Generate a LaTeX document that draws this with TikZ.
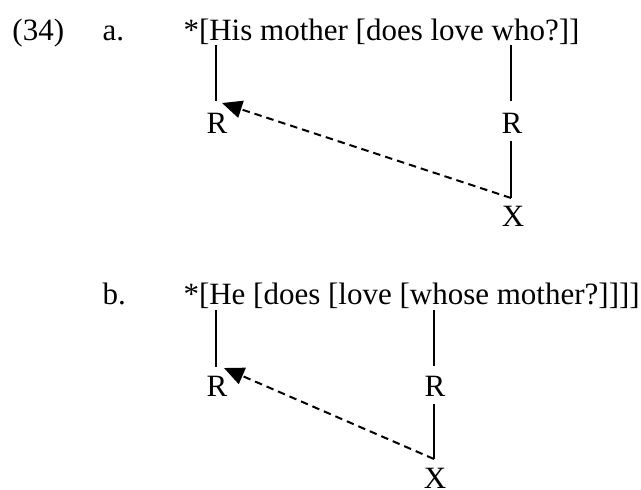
\documentclass[tikz,border=0pt]{standalone}
\usepackage{fontspec}
\setmainfont{Liberation Serif}
\usetikzlibrary{arrows.meta}
\begin{document}
\begin{tikzpicture}[x=0.4pt,y=-0.4pt,
  txt/.style={anchor=base west,inner sep=0pt,font=\fontsize{12.4pt}{14pt}\selectfont},
  sym/.style={anchor=base,inner sep=0pt,font=\fontsize{12.4pt}{14pt}\selectfont},
  link/.style={line width=0.8pt},
  move/.style={line width=0.8pt,dash pattern=on 3pt off 2pt,-{Triangle[length=8pt,width=7pt]}}]
\useasboundingbox (0,0) rectangle (641,489);
% (34a)
\node[txt] (num) at (12,40) {(34)};
\node[txt] (la) at (102,40) {a.};
\node[txt] (sa) at (183,40) {*[His mother [does love who?]]};
\node[sym] (ra1) at (217,133) {R};
\node[sym] (ra2) at (512,133) {R};
\node[sym] (xa) at (513,226) {X};
\coordinate (a1t) at (216,45);
\coordinate (a1b) at (216,101);
\coordinate (a2t) at (511,45);
\coordinate (a2b) at (511,101);
\coordinate (a3t) at (511,141);
\coordinate (a3b) at (511,198);
\coordinate (ta) at (222,103);
\draw[link] (a1t) -- (a1b);
\draw[link] (a2t) -- (a2b);
\draw[link] (a3t) -- (a3b);
\draw[move] (a3b) -- (ta);
% (34b)
\node[txt] (lb) at (102,304) {b.};
\node[txt] (sb) at (183,304) {*[He [does [love [whose mother?]]]]};
\node[sym] (rb1) at (217,396) {R};
\node[sym] (rb2) at (435,396) {R};
\node[sym] (xb) at (435,488) {X};
\coordinate (b1t) at (216,310);
\coordinate (b1b) at (216,367);
\coordinate (b2t) at (434,310);
\coordinate (b2b) at (434,366);
\coordinate (b3t) at (434,404);
\coordinate (b3b) at (434,459);
\coordinate (tb) at (224,368);
\draw[link] (b1t) -- (b1b);
\draw[link] (b2t) -- (b2b);
\draw[link] (b3t) -- (b3b);
\draw[move] (b3b) -- (tb);
\end{tikzpicture}
\end{document}
